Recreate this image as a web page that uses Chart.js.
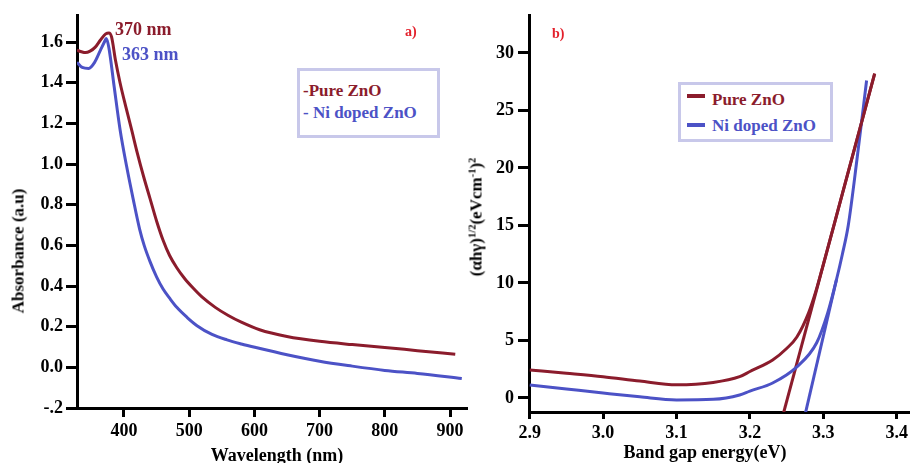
<!DOCTYPE html>
<html>
<head>
<meta charset="utf-8">
<script src="https://cdn.jsdelivr.net/npm/chart.js@4.4.1/dist/chart.umd.min.js"></script>
<style>
  html, body { margin: 0; padding: 0; background: #fff; }
  body { width: 912px; height: 463px; position: relative; overflow: hidden;
         font-family: "Liberation Serif", "Times New Roman", serif; font-weight: bold; }
  .panel { position: absolute; top: 0; height: 463px; }
  #left { left: 0; width: 470px; }
  #right { left: 470px; width: 442px; }
  .txt { position: absolute; white-space: nowrap; line-height: 1; }
  .vtitle { position: absolute; white-space: nowrap; line-height: 1; color: #000;
            transform: translate(-50%, -50%) rotate(-90deg); font-size: 17px; }
  .htitle { position: absolute; white-space: nowrap; line-height: 1; color: #000;
            transform: translateX(-50%); font-size: 18px; }
  .legend { position: absolute; border: 3px solid #c8c8ea; box-sizing: border-box; background: #fff; }
  .swatch { position: absolute; width: 18px; height: 4px; }
  sup { font-size: 0.62em; vertical-align: 0.55em; line-height: 0; }
  .red { color: #8b1c2c; }
  .blue { color: #4c52c6; }
</style>
</head>
<body>
<div class="panel" id="left"><canvas id="absorb"></canvas></div>
<div class="panel" id="right"><canvas id="tauc"></canvas></div>

<!-- annotations / titles -->
<div class="txt red" style="left:115px; top:20px; font-size:18px;">370 nm</div>
<div class="txt blue" style="left:122px; top:45px; font-size:18px;">363 nm</div>
<div class="txt" style="left:405px; top:25px; font-size:14px; color:#e3202b;">a)</div>
<div class="txt" style="left:552px; top:27px; font-size:14px; color:#e3202b;">b)</div>

<div class="legend" style="left:297px; top:68px; width:143px; height:70px;"></div>
<div class="txt red" style="left:303px; top:82px; font-size:17px;">-Pure ZnO</div>
<div class="txt blue" style="left:303px; top:104px; font-size:17px;">- Ni doped ZnO</div>

<div class="legend" style="left:678px; top:82px; width:155px; height:60px;"></div>
<div class="swatch" style="left:687px; top:94px; background:#8b1c2c;"></div>
<div class="swatch" style="left:687px; top:123px; background:#4c52c6;"></div>
<div class="txt red" style="left:712px; top:91px; font-size:17px;">Pure ZnO</div>
<div class="txt blue" style="left:712px; top:117px; font-size:17px;">Ni doped ZnO</div>

<div class="vtitle" style="left:18px; top:251px;">Absorbance (a.u)</div>
<div class="vtitle" style="left:476px; top:217px;">(αhγ)<sup>1/2</sup>(eVcm<sup>-1</sup>)<sup>2</sup></div>
<div class="htitle" style="left:277px; top:446px;">Wavelength (nm)</div>
<div class="htitle" style="left:705px; top:443px;">Band gap energy(eV)</div>

<script>
// ---- a) absorbance spectra ----
const wlPure = [328, 335, 341, 348, 356, 364, 372, 377, 381, 387, 394, 403, 412, 420, 430, 440, 450, 460, 470, 481, 493, 506, 520, 540, 560, 580, 608, 650, 700, 750, 800, 850, 908];
const absPure = [1.56, 1.552, 1.548, 1.555, 1.575, 1.61, 1.64, 1.645, 1.625, 1.51, 1.40, 1.28, 1.165, 1.06, 0.94, 0.83, 0.72, 0.625, 0.55, 0.49, 0.437, 0.39, 0.345, 0.295, 0.255, 0.222, 0.185, 0.152, 0.128, 0.112, 0.098, 0.082, 0.064];
const wlNi = [328, 336, 346, 355, 364, 370, 373, 377, 385, 394, 404, 414, 424, 431, 440, 450, 460, 470, 481, 497, 512, 535, 558, 580, 604, 650, 700, 750, 800, 850, 918];
const absNi = [1.50, 1.475, 1.47, 1.50, 1.56, 1.60, 1.618, 1.57, 1.38, 1.17, 0.99, 0.83, 0.68, 0.60, 0.52, 0.445, 0.385, 0.34, 0.295, 0.245, 0.205, 0.162, 0.135, 0.115, 0.096, 0.062, 0.03, 0.006, -0.015, -0.03, -0.055];
const wlTicks = [400, 500, 600, 700, 800, 900];
const wlTickLabels = ["400", "500", "600", "700", "800", "900"];
const absTicks = [-0.2, 0, 0.2, 0.4, 0.6, 0.8, 1.0, 1.2, 1.4, 1.6];
const absTickLabels = ["-.2", "0.0", "0.2", "0.4", "0.6", "0.8", "1.0", "1.2", "1.4", "1.6"];

// ---- b) Tauc plot ----
const ePure = [2.9, 2.95, 3.0, 3.05, 3.1, 3.15, 3.186, 3.2, 3.231, 3.25, 3.264, 3.28, 3.29, 3.30, 3.318, 3.335, 3.35, 3.37];
const tPure = [2.43, 2.15, 1.85, 1.47, 1.15, 1.35, 1.85, 2.3, 3.3, 4.3, 5.3, 7.4, 9.3, 11.6, 15.85, 19.9, 23.45, 28.2];
const eNi = [2.9, 2.95, 3.0, 3.05, 3.1, 3.15, 3.186, 3.2, 3.231, 3.264, 3.291, 3.306, 3.318, 3.326, 3.334, 3.346, 3.359];
const tNi = [1.13, 0.78, 0.43, 0.1, -0.17, -0.12, 0.26, 0.6, 1.3, 2.7, 4.8, 7.4, 10.3, 12.5, 15.0, 20.8, 27.6];
// extrapolated band-gap lines
const fitPureE = [3.245, 3.37];
const fitPureT = [-1.5, 28.2];
const fitNiE = [3.275, 3.318];
const fitNiT = [-1.5, 10.3];
const eTicks = [2.9, 3.0, 3.1, 3.2, 3.3, 3.4];
const eTickLabels = ["2.9", "3.0", "3.1", "3.2", "3.3", "3.4"];
const tTicks = [0, 5, 10, 15, 20, 25, 30];
const tTickLabels = ["0", "5", "10", "15", "20", "25", "30"];

const RED = "#8b1c2c";
const BLUE = "#4c52c6";
const FONT = "'Liberation Serif', 'Times New Roman', serif";

const pts = (xs, ys) => xs.map((x, i) => ({ x: x, y: ys[i] }));

function axis(min, max, values, labels, tickLen, pad, size) {
  return {
    type: "linear",
    min: min,
    max: max,
    afterBuildTicks: s => { s.ticks = values.map(v => ({ value: v })); },
    afterFit: s => {
      if (s.isHorizontal()) s.height = size; else s.width = size;
    },
    ticks: {
      callback: (v, i) => labels[i],
      font: { family: FONT, weight: "bold", size: 18 },
      color: "#000",
      padding: pad,
      autoSkip: false,
      maxRotation: 0
    },
    grid: {
      display: true,
      drawOnChartArea: false,
      drawTicks: true,
      tickLength: tickLen,
      tickWidth: 3,
      tickColor: "#000"
    },
    border: { display: true, color: "#000", width: 3 }
  };
}

function line(label, data, color, smooth) {
  return {
    label: label,
    data: data,
    borderColor: color,
    backgroundColor: color,
    borderWidth: 3,
    pointRadius: 0,
    fill: false,
    cubicInterpolationMode: smooth ? "monotone" : "default",
    tension: 0
  };
}

const common = {
  responsive: true,
  maintainAspectRatio: false,
  animation: false,
  plugins: { legend: { display: false }, tooltip: { enabled: false } }
};

new Chart(document.querySelector("#absorb"), {
  type: "line",
  data: {
    datasets: [
      line("Pure ZnO", pts(wlPure, absPure), RED, true),
      line("Ni doped ZnO", pts(wlNi, absNi), BLUE, true)
    ]
  },
  options: {
    ...common,
    layout: { padding: { top: 15, right: 3, left: 0, bottom: 0 } },
    scales: {
      x: axis(328, 926, wlTicks, wlTickLabels, 9, 4, 55),
      y: axis(-0.2, 1.733, absTicks, absTickLabels, 11, 3, 77)
    }
  }
});

new Chart(document.querySelector("#tauc"), {
  type: "line",
  data: {
    datasets: [
      line("Pure ZnO", pts(ePure, tPure), RED, true),
      line("Ni doped ZnO", pts(eNi, tNi), BLUE, true),
      line("Pure ZnO fit", pts(fitPureE, fitPureT), RED, false),
      line("Ni doped ZnO fit", pts(fitNiE, fitNiT), BLUE, false)
    ]
  },
  options: {
    ...common,
    layout: { padding: { top: 15, right: 2, left: 0, bottom: 0 } },
    scales: {
      x: axis(2.899, 3.418, eTicks, eTickLabels, 7, 4, 51),
      y: axis(-1.22, 33.3, tTicks, tTickLabels, 11, 4, 59)
    }
  }
});
</script>
</body>
</html>
